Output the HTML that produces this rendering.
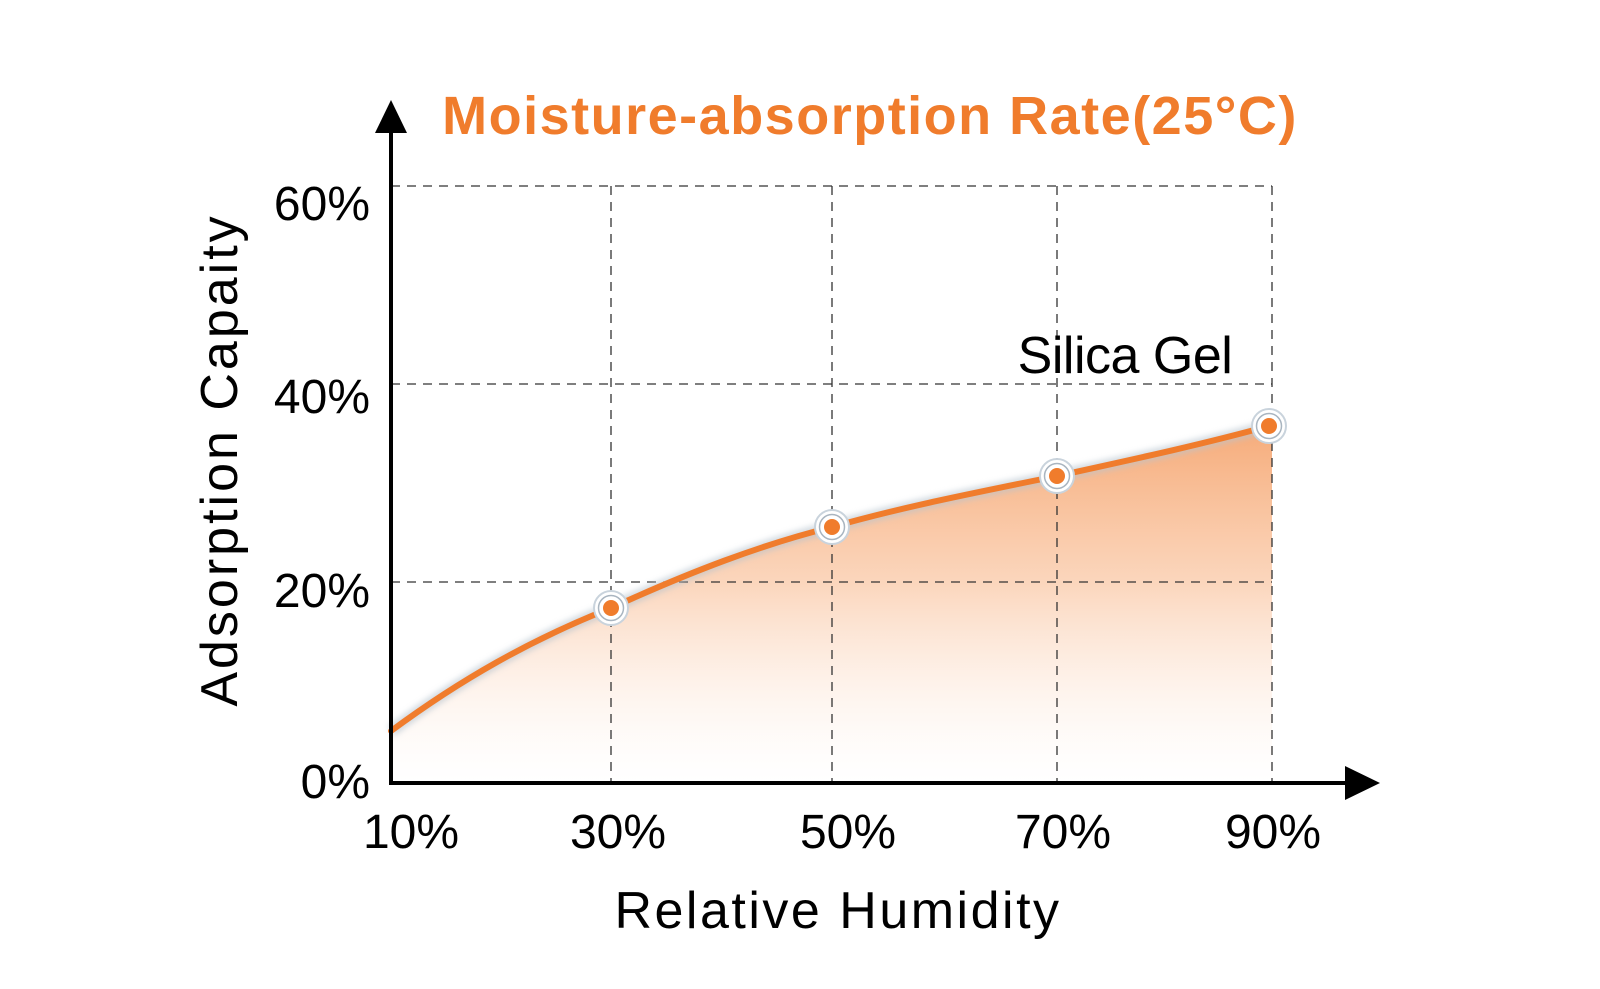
<!DOCTYPE html>
<html><head><meta charset="utf-8"><style>
html,body{margin:0;padding:0;background:#fff;}
svg{display:block;}
text{font-family:"Liberation Sans",sans-serif;}
</style></head><body>
<svg width="1600" height="989" viewBox="0 0 1600 989" xmlns="http://www.w3.org/2000/svg">
<defs>
<linearGradient id="fill2" x1="0" y1="420" x2="0" y2="783" gradientUnits="userSpaceOnUse">
<stop offset="0" stop-color="#f49a5e" stop-opacity="0.85"/>
<stop offset="0.45" stop-color="#f7ad7a" stop-opacity="0.5"/>
<stop offset="1" stop-color="#fde8da" stop-opacity="0.0"/>
</linearGradient>
<filter id="blur" x="-10%" y="-10%" width="120%" height="120%"><feGaussianBlur stdDeviation="3"/></filter>
</defs>
<path d="M391,731 C460,680 530,640 611,608 C690,572 760,545 832,527 C910,505 980,492 1057,476 C1130,460 1200,445 1269,426 L1272,426 L1272,783 L391,783 Z" fill="url(#fill2)"/>
<g stroke="#333" stroke-width="1.3" stroke-dasharray="9,7" fill="none">
<line x1="391" y1="186" x2="1272" y2="186"/>
<line x1="391" y1="384" x2="1272" y2="384"/>
<line x1="391" y1="582" x2="1272" y2="582"/>
<line x1="611" y1="186" x2="611" y2="783"/>
<line x1="832" y1="186" x2="832" y2="783"/>
<line x1="1057" y1="186" x2="1057" y2="783"/>
<line x1="1272" y1="186" x2="1272" y2="783"/>
</g>
<path d="M391,731 C460,680 530,640 611,608 C690,572 760,545 832,527 C910,505 980,492 1057,476 C1130,460 1200,445 1269,426" fill="none" stroke="#b8c4cf" stroke-width="12" opacity="0.6" filter="url(#blur)"/>
<path d="M391,731 C460,680 530,640 611,608 C690,572 760,545 832,527 C910,505 980,492 1057,476 C1130,460 1200,445 1269,426" fill="none" stroke="#f07c2c" stroke-width="6" stroke-linecap="round"/>
<g>
<g transform="translate(611,608)"><circle r="17" fill="#fff" stroke="#c9d3dc" stroke-width="2"/><circle r="12.5" fill="none" stroke="#a9b5c0" stroke-width="1.5"/><circle r="8" fill="#f07c2c"/></g>
<g transform="translate(832,527)"><circle r="17" fill="#fff" stroke="#c9d3dc" stroke-width="2"/><circle r="12.5" fill="none" stroke="#a9b5c0" stroke-width="1.5"/><circle r="8" fill="#f07c2c"/></g>
<g transform="translate(1057,476)"><circle r="17" fill="#fff" stroke="#c9d3dc" stroke-width="2"/><circle r="12.5" fill="none" stroke="#a9b5c0" stroke-width="1.5"/><circle r="8" fill="#f07c2c"/></g>
<g transform="translate(1269,426)"><circle r="17" fill="#fff" stroke="#c9d3dc" stroke-width="2"/><circle r="12.5" fill="none" stroke="#a9b5c0" stroke-width="1.5"/><circle r="8" fill="#f07c2c"/></g>
</g>
<line x1="391" y1="120" x2="391" y2="785" stroke="#000" stroke-width="4"/>
<polygon points="391,100 375,133 407,133" fill="#000"/>
<line x1="389" y1="783" x2="1355" y2="783" stroke="#000" stroke-width="4"/>
<polygon points="1380,783 1345,766 1345,800" fill="#000"/>
<text x="870" y="134" text-anchor="middle" font-size="54" font-weight="bold" fill="#f07c2c" letter-spacing="1.5">Moisture-absorption Rate(25°C)</text>
<g font-size="48" fill="#000" text-anchor="end">
<text x="370" y="220">60%</text>
<text x="370" y="413">40%</text>
<text x="370" y="607">20%</text>
<text x="370" y="798">0%</text>
</g>
<g font-size="48" fill="#000" text-anchor="middle">
<text x="411" y="848">10%</text>
<text x="618" y="848">30%</text>
<text x="848" y="848">50%</text>
<text x="1063" y="848">70%</text>
<text x="1273" y="848">90%</text>
</g>
<text x="838" y="928" text-anchor="middle" font-size="52" fill="#000" letter-spacing="2.5">Relative Humidity</text>
<text transform="translate(237,460) rotate(-90)" text-anchor="middle" font-size="52" fill="#000" letter-spacing="3">Adsorption Capaity</text>
<text x="1125" y="373" text-anchor="middle" font-size="52" fill="#000" letter-spacing="-0.5">Silica Gel</text>
</svg>
</body></html>
